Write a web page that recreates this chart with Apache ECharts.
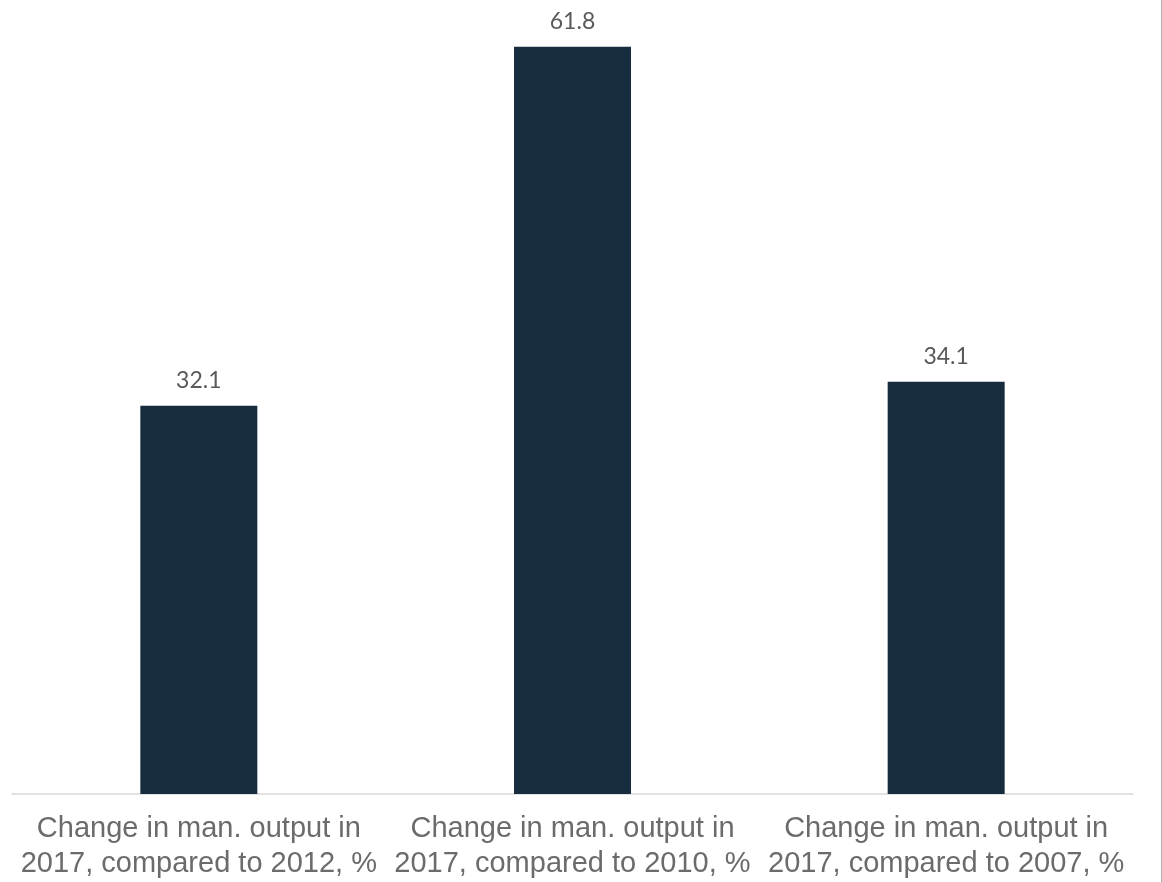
<!DOCTYPE html>
<html><head><meta charset="utf-8">
<script src="https://cdn.jsdelivr.net/npm/echarts@6/dist/echarts.min.js"></script>
<style>html,body{margin:0;padding:0;background:#fff}#c{width:1161px;height:882px;border-right:1px solid #b0b0b0}</style>
</head><body><div id="c"></div>
<script>
const categories = ['Change in man. output in\n2017, compared to 2012, %','Change in man. output in\n2017, compared to 2010, %','Change in man. output in\n2017, compared to 2007, %'];
const values = [32.1, 61.8, 34.1];
const chart = echarts.init(document.getElementById('c'));
chart.setOption({
  animation:false,
  grid:{left:12,right:28,top:8,bottom:88},
  xAxis:{type:'category',data:categories,
    axisLine:{lineStyle:{color:'#d9d9d9',width:1.5}},axisTick:{show:false},
    axisLabel:{color:'#6b6b6b',fontSize:29,fontFamily:'Liberation Sans, Arial',lineHeight:35,margin:17,interval:0}},
  yAxis:{type:'value',min:0,max:65,show:false,splitLine:{show:false}},
  series:[{type:'bar',data:values,barWidth:117,itemStyle:{color:'#172c3f'},
    label:{show:true,position:'top',distance:14,color:'#595959',fontSize:23,fontFamily:'Lato, sans-serif'}}]
});
</script></body></html>
